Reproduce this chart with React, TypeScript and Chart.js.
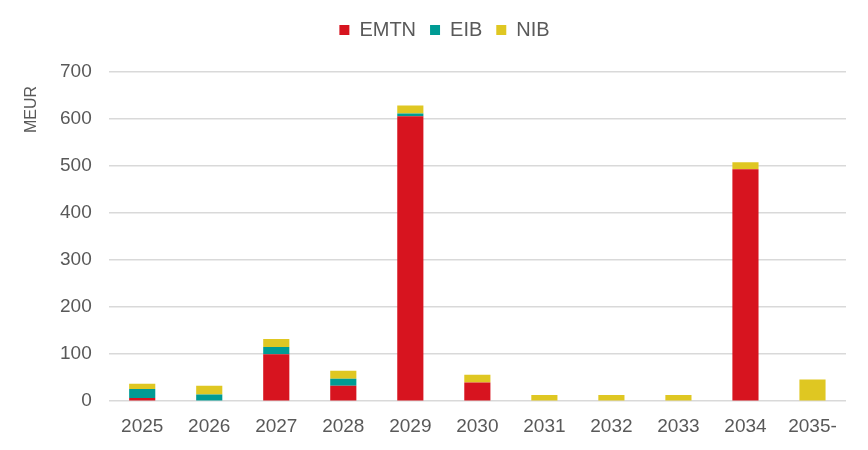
import React, { useEffect, useRef } from "react";
import { Chart, registerables } from "chart.js";

Chart.register(...registerables);

const categories = ["2025", "2026", "2027", "2028", "2029", "2030", "2031", "2032", "2033", "2034", "2035-"];
const emtn = [7, 0, 100, 33, 606, 40, 0, 0, 0, 493, 0];
const eib = [19, 14, 15, 15, 6, 0, 0, 0, 0, 0, 0];
const nib = [11, 19, 17, 17, 17, 16, 13, 13, 13, 15, 46];
const yTicks = [0, 100, 200, 300, 400, 500, 600, 700];
const yTitle = "MEUR";

const TEXT = "#595959";
const FONT = "'Liberation Sans', Arial, sans-serif";

const legendSpacer = {
  id: "legendSpacer",
  beforeInit(chart: any) {
    const orig = chart.legend.fit;
    chart.legend.fit = function () {
      orig.bind(chart.legend)();
      this.height += 22;
    };
  },
};

const yTitlePlugin = {
  id: "yTitlePlugin",
  afterDraw(chart: any) {
    const ctx = chart.ctx;
    const area = chart.chartArea;
    ctx.save();
    ctx.fillStyle = TEXT;
    ctx.font = `16px ${FONT}`;
    ctx.translate(36, area.top + 14);
    ctx.rotate(-Math.PI / 2);
    ctx.textAlign = "right";
    ctx.textBaseline = "alphabetic";
    ctx.fillText(yTitle, 0, 0);
    ctx.restore();
  },
};

export default function App() {
  const ref = useRef<HTMLCanvasElement>(null);
  useEffect(() => {
    document.body.style.margin = "0";
    const chart = new Chart(ref.current!, {
      type: "bar",
      data: {
        labels: categories,
        datasets: [
          { label: "EMTN", data: emtn, backgroundColor: "#D7141F" },
          { label: "EIB", data: eib, backgroundColor: "#009B94" },
          { label: "NIB", data: nib, backgroundColor: "#DFC722" },
        ],
      },
      plugins: [legendSpacer, yTitlePlugin],
      options: {
        animation: false,
        responsive: false,
        maintainAspectRatio: false,
        layout: { padding: { left: 43, right: 22, top: 6, bottom: 6 } },
        datasets: { bar: { categoryPercentage: 1, barPercentage: 0.39 } } as any,
        plugins: {
          legend: {
            position: "top",
            labels: {
              boxWidth: 10,
              boxHeight: 10,
              padding: 14,
              color: TEXT,
              font: { family: FONT, size: 20 },
            },
          },
          tooltip: { enabled: false },
        },
        scales: {
          x: {
            stacked: true,
            grid: { display: false },
            border: { display: false },
            ticks: { color: TEXT, font: { family: FONT, size: 19 }, padding: 6 },
          },
          y: {
            stacked: true,
            min: 0,
            max: 700,
            afterBuildTicks: (axis: any) => {
              axis.ticks = yTicks.map((v) => ({ value: v }));
            },
            grid: { color: "#D9D9D9", lineWidth: 1.5, drawTicks: false },
            border: { display: false },
            ticks: { color: TEXT, font: { family: FONT, size: 19 }, padding: 17 },
          },
        },
      },
    });
    return () => chart.destroy();
  }, []);
  return (
    <div style={{ width: 868, height: 450 }}>
      <canvas ref={ref} width={868} height={450} />
    </div>
  );
}
